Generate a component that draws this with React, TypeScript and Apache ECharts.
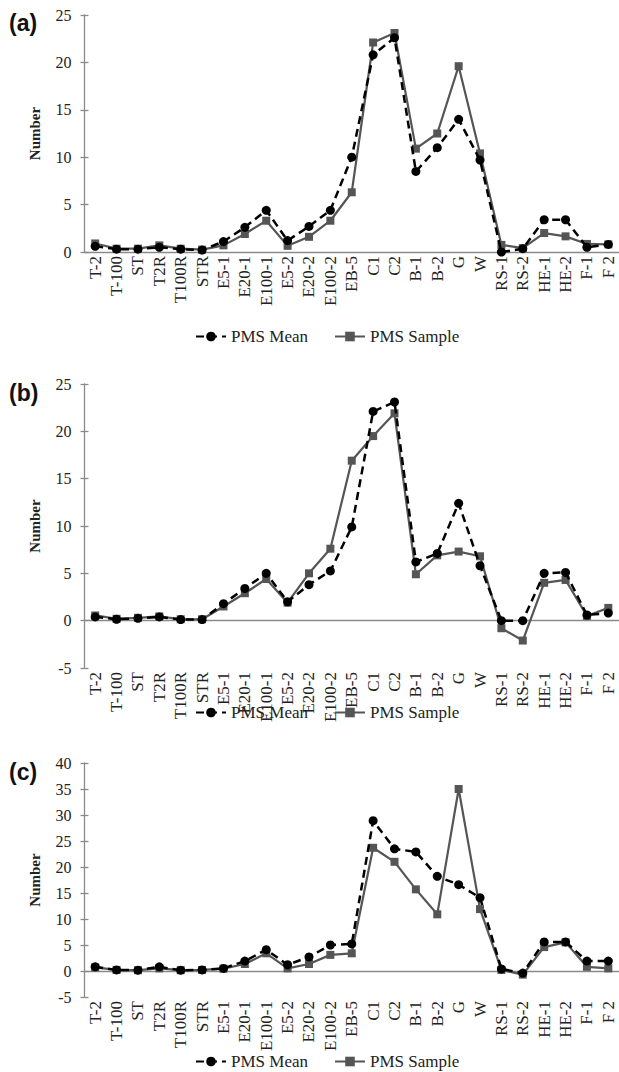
import React, { useEffect, useRef } from "react";
import * as echarts from "echarts";

const categories = ["T-2","T-100","ST","T2R","T100R","STR","E5-1","E20-1","E100-1","E5-2","E20-2","E100-2","EB-5","C1","C2","B-1","B-2","G","W","RS-1","RS-2","HE-1","HE-2","F-1","F 2"];

const meanA = [0.6,0.3,0.3,0.5,0.3,0.2,1.1,2.6,4.4,1.2,2.7,4.4,10.0,20.8,22.6,8.5,11.0,14.0,9.7,0,0.35,3.4,3.4,0.5,0.8];
const sampleA = [0.9,0.35,0.35,0.7,0.35,0.25,0.7,1.9,3.3,0.65,1.6,3.3,6.3,22.1,23.1,10.9,12.5,19.6,10.4,0.75,0.4,2.0,1.65,0.85,0.8];

const meanB = [0.4,0.15,0.25,0.4,0.12,0.12,1.8,3.4,5.0,2.0,3.8,5.25,9.9,22.1,23.1,6.2,7.1,12.4,5.8,0,0,5.0,5.1,0.6,0.8];
const sampleB = [0.55,0.2,0.3,0.45,0.15,0.15,1.5,2.9,4.4,1.9,5.0,7.6,16.9,19.5,21.9,4.9,6.9,7.3,6.8,-0.8,-2.1,4.0,4.3,0.5,1.35];

const meanC = [0.8,0.2,0.15,0.8,0.15,0.2,0.5,1.9,4.1,1.2,2.7,5.0,5.2,28.9,23.5,22.9,18.2,16.6,14.1,0.4,-0.4,5.6,5.6,1.9,1.9];
const sampleC = [0.7,0.2,0.15,0.5,0.15,0.2,0.45,1.35,3.4,0.5,1.35,3.1,3.4,23.7,21.0,15.7,10.9,35.0,11.9,0.2,-0.7,4.6,5.5,0.8,0.5];

const yRangeA = [0, 25];
const yRangeB = [-5, 25];
const yRangeC = [-5, 40];

const panelLabels = ["(a)", "(b)", "(c)"];

const serif = "Liberation Serif";

export default function App() {
  const ref = useRef<HTMLDivElement>(null);
  useEffect(() => {
    if (!ref.current) return;
    const chart = echarts.init(ref.current, null, { renderer: "svg" });
    const grids = [
      { left: 84.5, width: 538.75, top: 15, height: 237 },
      { left: 84.5, width: 538.75, top: 384, height: 284 },
      { left: 84.5, width: 538.75, top: 763, height: 234 },
    ];
    const ranges = [yRangeA, yRangeB, yRangeC];
    const axisGray = "#8a8a8a";
    const xAxes = grids.map((_, i) => ({
      type: "category",
      gridIndex: i,
      data: categories,
      boundaryGap: true,
      axisLine: { onZero: true, lineStyle: { color: axisGray, width: 1.3 } },
      axisTick: { show: false },
      axisLabel: {
        rotate: 90,
        interval: 0,
        margin: 4,
        fontFamily: serif,
        fontSize: 17,
        color: "#222",
      },
    }));
    const yAxes: any[] = grids.map((_, i) => ({
      type: "value",
      gridIndex: i,
      position: "left",
      min: ranges[i][0],
      max: ranges[i][1],
      interval: 5,
      name: "Number",
      nameLocation: "middle",
      nameGap: 42,
      nameTextStyle: { fontFamily: serif, fontSize: 15, fontWeight: "bold", color: "#222" },
      splitLine: { show: false },
      axisLine: { show: true, lineStyle: { color: axisGray, width: 1.3 } },
      axisTick: { show: true, length: 4, lineStyle: { color: axisGray, width: 1.3 } },
      axisLabel: { fontFamily: serif, fontSize: 16, color: "#222", margin: 13 },
    }));
    // inner half of the crossing tick marks
    grids.forEach((_, i) => {
      yAxes.push({
        type: "value",
        gridIndex: i,
        position: "left",
        min: ranges[i][0],
        max: ranges[i][1],
        interval: 5,
        splitLine: { show: false },
        axisLine: { show: false },
        axisTick: { show: true, inside: true, length: 4, lineStyle: { color: axisGray, width: 1.3 } },
        axisLabel: { show: false },
      });
    });
    const means = [meanA, meanB, meanC];
    const samples = [sampleA, sampleB, sampleC];
    const series: any[] = [];
    for (let i = 0; i < 3; i++) {
      series.push({
        name: "PMS Sample",
        type: "line",
        xAxisIndex: i,
        yAxisIndex: i,
        data: samples[i],
        symbol: "rect",
        symbolSize: 8,
        color: "#555555",
        lineStyle: { color: "#555555", width: 2.2, type: "solid" },
        itemStyle: { color: "#555555" },
        z: 2,
      });
      series.push({
        name: "PMS Mean",
        type: "line",
        xAxisIndex: i,
        yAxisIndex: i,
        data: means[i],
        symbol: "circle",
        symbolSize: 9,
        color: "#000000",
        lineStyle: { color: "#000000", width: 2.5, type: [8, 5] },
        itemStyle: { color: "#000000" },
        z: 3,
      });
    }
    const legendTops = [323, 699, 1048];
    const legends = legendTops.map((t) => ({
      top: t,
      left: 190,
      data: ["PMS Mean", "PMS Sample"],
      itemWidth: 30,
      itemHeight: 12,
      itemGap: 26,
      textStyle: { fontFamily: serif, fontSize: 17, color: "#222" },
    }));
    const labelCenters = [23, 393, 772];
    chart.setOption({
      animation: false,
      backgroundColor: "#ffffff",
      grid: grids,
      xAxis: xAxes,
      yAxis: yAxes,
      legend: legends,
      series,
      graphic: panelLabels.map((t, i) => ({
        type: "text",
        x: 9,
        y: labelCenters[i],
        style: {
          text: t,
          fontFamily: "Liberation Sans",
          fontWeight: "bold",
          fontSize: 23,
          fill: "#111",
          verticalAlign: "middle",
          align: "left",
        },
      })),
    });
    return () => chart.dispose();
  }, []);
  return (
    <div
      ref={ref}
      style={{ position: "absolute", left: 0, top: 0, width: 619, height: 1072 }}
    />
  );
}
